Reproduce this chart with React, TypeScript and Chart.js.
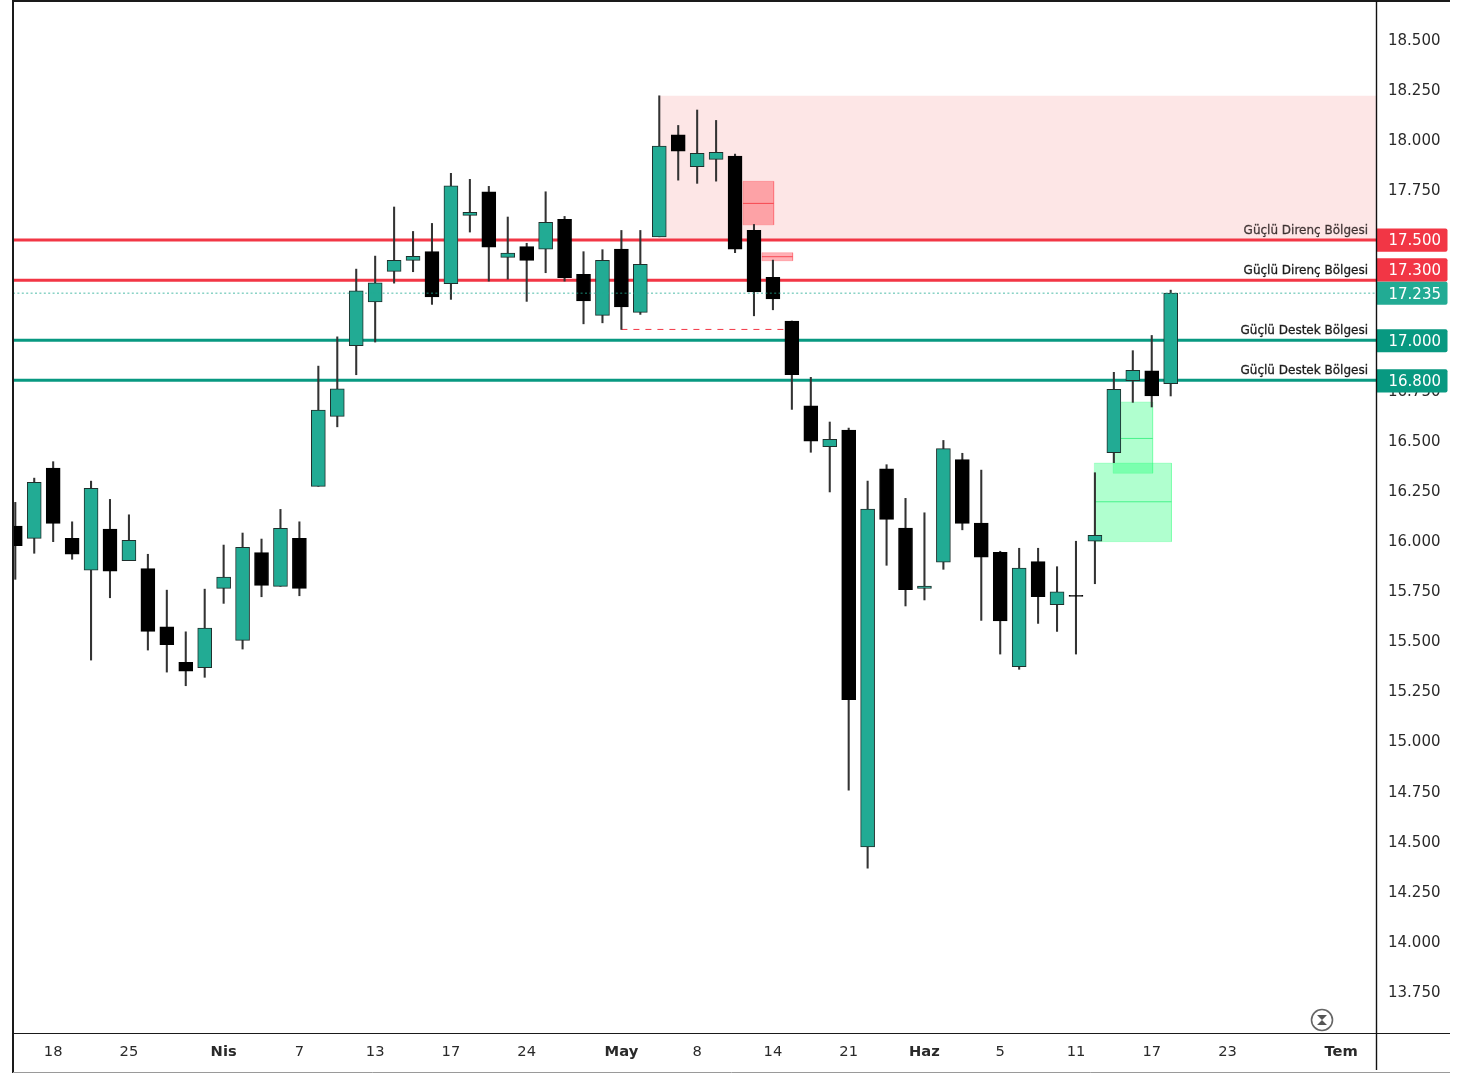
import React, { useEffect, useRef } from "react";
import { Chart, registerables } from "chart.js";

Chart.register(...registerables);

const opens = [16.073, 16.011, 16.362, 16.011, 15.853, 16.058, 15.9, 15.86, 15.57, 15.393, 15.366, 15.762, 15.502, 15.94, 15.772, 16.011,
  16.271, 16.62, 16.973, 17.191, 17.344, 17.399, 17.442, 17.282, 17.623, 17.741, 17.414, 17.467, 17.455, 17.603, 17.329, 17.124, 17.455, 17.139,
  17.516, 18.025, 17.866, 17.903, 17.919, 17.548, 17.314, 17.096, 16.673, 16.469, 16.552, 14.471, 16.359, 16.063, 15.762, 15.893, 16.404, 16.088, 15.942, 15.371, 15.895, 15.68, 15.722, 15.997, 16.439, 16.798, 16.848, 16.783];
const closes = [15.975, 16.291, 16.086, 15.933, 16.261, 15.848, 16.001, 15.547, 15.481, 15.349, 15.564, 15.818, 15.967, 15.777, 16.061, 15.762,
  16.652, 16.758, 17.247, 17.287, 17.399, 17.419, 17.216, 17.771, 17.638, 17.465, 17.435, 17.399, 17.588, 17.312, 17.196, 17.399, 17.166, 17.379,
  17.969, 17.943, 17.933, 17.938, 17.454, 17.241, 17.206, 16.828, 16.497, 16.505, 15.207, 16.158, 16.106, 15.755, 15.773, 16.459, 16.086, 15.918, 15.599, 15.863, 15.72, 15.745, 15.722, 16.026, 16.755, 16.85, 16.722, 17.235];
const highs = [16.191, 16.312, 16.394, 16.094, 16.297, 16.206, 16.129, 15.932, 15.753, 15.545, 15.758, 15.978, 16.038, 16.008, 16.156, 16.094,
  16.871, 17.017, 17.355, 17.42, 17.665, 17.543, 17.583, 17.833, 17.803, 17.768, 17.615, 17.484, 17.741, 17.618, 17.442, 17.452, 17.548, 17.548,
  18.22, 18.072, 18.149, 18.097, 17.929, 17.578, 17.4, 17.096, 16.815, 16.592, 16.562, 16.297, 16.379, 16.211, 16.139, 16.5, 16.436, 16.352, 15.947, 15.962, 15.962, 15.87, 15.997, 16.339, 16.84, 16.948, 17.024, 17.25];
const lows = [15.807, 15.937, 15.995, 15.907, 15.404, 15.715, 15.9, 15.454, 15.344, 15.276, 15.318, 15.687, 15.459, 15.72, 15.772, 15.725,
  16.271, 16.568, 16.828, 16.991, 17.285, 17.342, 17.179, 17.204, 17.54, 17.295, 17.305, 17.194, 17.337, 17.295, 17.082, 17.087, 17.054, 17.129,
  17.516, 17.799, 17.783, 17.794, 17.437, 17.122, 17.152, 16.655, 16.441, 16.243, 14.755, 14.366, 15.877, 15.674, 15.704, 15.857, 16.054, 15.602, 15.434, 15.358, 15.587, 15.547, 15.434, 15.785, 16.389, 16.69, 16.667, 16.722];

const priceTicks = [13.75, 14, 14.25, 14.5, 14.75, 15, 15.25, 15.5, 15.75, 16, 16.25, 16.5, 16.75, 17, 17.25, 17.5, 17.75, 18, 18.25, 18.5];
const timeTickIndex = [2, 6, 11, 15, 19, 23, 27, 32, 36, 40, 44, 48, 52, 56, 60, 64, 70];
const timeTickLabels = ["18", "25", "Nis", "7", "13", "17", "24", "May", "8", "14", "21", "Haz", "5", "11", "17", "23", "Tem"];
const boldTimeLabels = ["Nis", "May", "Haz", "Tem"];

const xMin = -0.121;
const xMax = 71.84;
const yMin = 13.543;
const yMax = 18.693;

const levelValues = [17.5, 17.3, 17.0, 16.8];
const levelLabels = ["Güçlü Direnç Bölgesi", "Güçlü Direnç Bölgesi", "Güçlü Destek Bölgesi", "Güçlü Destek Bölgesi"];
const levelColors = ["#f23645", "#f23645", "#089981", "#089981"];
const levelTagShift = [0, -10.2, 0.5, 0.5];
const lastPrice = 17.235;

const zoneStart = [34.04, 38.42, 39.42, 56.97, 57.96];
const zoneEnd = [71.84, 40.04, 41.04, 61.04, 60.05];
const zoneTop = [18.22, 17.793, 17.437, 16.387, 16.692];
const zoneBottom = [17.5, 17.576, 17.397, 15.995, 16.336];
const zoneMiddle = [null, 17.683, 17.417, 16.194, 16.51];
const zoneFill = ["rgba(240,60,60,0.13)", "rgba(255,70,80,0.42)", "rgba(255,70,80,0.42)", "rgba(0,255,100,0.31)", "rgba(0,255,100,0.31)"];
const zoneEdge = ["rgba(242,54,69,0)", "rgba(255,70,80,0.28)", "rgba(255,70,80,0.28)", "rgba(0,255,100,0.18)", "rgba(0,255,100,0.18)"];
const zoneMid = ["", "rgba(245,50,60,0.8)", "rgba(245,50,60,0.8)", "rgba(0,235,95,0.6)", "rgba(0,235,95,0.6)"];

const sweepStart = 32;
const sweepEnd = 40.6;
const sweepPrice = 17.054;

const GREEN = "#22ab94";
const FONT = '"DejaVu Sans"';

const chrome = {
  id: "chrome",
  beforeDraw(chart: any) {
    chart.scales.y.getLabelItems().forEach((item: any) => {
      item.options.translation[1] += 1.5;
    });
  },
  afterDraw(chart: any) {
    const { ctx, scales } = chart;
    const y = scales.y;
    ctx.save();
    // frame
    ctx.strokeStyle = "#1a1a1a";
    ctx.lineWidth = 2;
    ctx.beginPath();
    ctx.moveTo(13, 1073);
    ctx.lineTo(13, 1);
    ctx.lineTo(1450, 1);
    ctx.stroke();
    ctx.lineWidth = 1.2;
    ctx.beginPath();
    ctx.moveTo(13, 1033.5);
    ctx.lineTo(1450, 1033.5);
    ctx.stroke();
    ctx.strokeStyle = "#9a9a9a";
    ctx.lineWidth = 1;
    ctx.beginPath();
    ctx.moveTo(13, 1072.5);
    ctx.lineTo(1450, 1072.5);
    ctx.stroke();

    // level labels
    ctx.font = `12px ${FONT}`;
    ctx.textAlign = "right";
    ctx.textBaseline = "alphabetic";
    ctx.lineWidth = 0.3;
    levelValues.forEach((v, i) => {
      const c = i === 0 ? "rgba(30,20,20,0.8)" : "#1c1c1c";
      ctx.fillStyle = c;
      ctx.strokeStyle = c;
      ctx.fillText(levelLabels[i], 1368, y.getPixelForValue(v) - 6);
      ctx.strokeText(levelLabels[i], 1368, y.getPixelForValue(v) - 6);
    });

    // price tags
    ctx.font = `15px ${FONT}`;
    ctx.textAlign = "left";
    ctx.textBaseline = "middle";
    const draw = (v: number, c: string, shift: number) => {
      const py = y.getPixelForValue(v) + shift;
      ctx.fillStyle = c;
      ctx.beginPath();
      ctx.roundRect(1377, py - 11.6, 70.5, 23.2, [0, 2, 2, 0]);
      ctx.fill();
      ctx.fillStyle = "#ffffff";
      ctx.fillText(v.toFixed(3), 1388.5, py + 1.5);
    };
    draw(lastPrice, GREEN, 0);
    levelValues.forEach((v, i) => draw(v, levelColors[i], levelTagShift[i]));

    // price axis line, above the tags' edge
    ctx.strokeStyle = "#111111";
    ctx.lineWidth = 1.4;
    ctx.beginPath();
    ctx.moveTo(1376.5, 1);
    ctx.lineTo(1376.5, 1070);
    ctx.stroke();

    // hourglass badge
    ctx.strokeStyle = "#666666";
    ctx.fillStyle = "#555555";
    ctx.lineWidth = 1.6;
    ctx.beginPath();
    ctx.arc(1322, 1020, 10.5, 0, Math.PI * 2);
    ctx.stroke();
    ctx.beginPath();
    ctx.moveTo(1317, 1015);
    ctx.lineTo(1327, 1015);
    ctx.lineTo(1322, 1020);
    ctx.lineTo(1327, 1025);
    ctx.lineTo(1317, 1025);
    ctx.lineTo(1322, 1020);
    ctx.closePath();
    ctx.fill();
    ctx.restore();
  },
};

export default function App() {
  const ref = useRef<HTMLCanvasElement>(null);

  useEffect(() => {
    if (!ref.current) return;
    document.body.style.margin = "0";
    const candleIdx = opens.map((_, i) => i);
    const plain = { pointRadius: 0, pointHoverRadius: 0, tension: 0 };

    const datasets: any[] = [];

    zoneStart.forEach((s, i) => {
      const e = zoneEnd[i];
      datasets.push({
        type: "line",
        order: 5,
        data: [
          { x: s, y: zoneBottom[i] },
          { x: s, y: zoneTop[i] },
          { x: e, y: zoneTop[i] },
          { x: e, y: zoneBottom[i] },
          { x: s, y: zoneBottom[i] },
        ],
        fill: "shape",
        backgroundColor: zoneFill[i],
        borderColor: zoneEdge[i],
        borderWidth: 1,
        ...plain,
      });
      const m = zoneMiddle[i];
      if (m !== null) {
        datasets.push({
          type: "line",
          order: 4,
          data: [{ x: s, y: m }, { x: e, y: m }],
          fill: false,
          borderColor: zoneMid[i],
          borderWidth: 1,
          ...plain,
        });
      }
    });

    levelValues.forEach((v, i) => {
      datasets.push({
        type: "line",
        order: 3,
        data: [{ x: xMin, y: v }, { x: xMax, y: v }],
        fill: false,
        borderColor: levelColors[i],
        borderWidth: 3,
        ...plain,
      });
    });

    datasets.push({
      type: "line",
      order: 3,
      data: [{ x: sweepStart, y: sweepPrice }, { x: sweepEnd, y: sweepPrice }],
      fill: false,
      borderColor: "#f23645",
      borderWidth: 1,
      borderDash: [6, 6],
      ...plain,
    });

    datasets.push({
      type: "bar",
      order: 2,
      grouped: false,
      barThickness: 1.4,
      data: candleIdx.map((i) => ({ x: i, y: [lows[i], highs[i]] })),
      backgroundColor: "#333333",
      borderWidth: 0,
    });

    datasets.push({
      type: "bar",
      order: 1,
      grouped: false,
      barThickness: 14,
      minBarLength: 1,
      data: candleIdx.map((i) => ({ x: i, y: [opens[i], closes[i]] })),
      backgroundColor: candleIdx.map((i) => (closes[i] > opens[i] ? GREEN : "#000000")),
      borderColor: candleIdx.map((i) => (closes[i] > opens[i] ? "#1f2f2c" : "#000000")),
      borderWidth: 1,
      borderSkipped: false,
    });

    datasets.push({
      type: "line",
      order: 0,
      data: [{ x: xMin, y: lastPrice }, { x: xMax, y: lastPrice }],
      fill: false,
      borderColor: "rgba(34,171,148,0.8)",
      borderWidth: 1,
      borderDash: [2, 2.4],
      ...plain,
    });

    const chart = new Chart(ref.current, {
      type: "bar",
      data: { datasets },
      plugins: [chrome],
      options: {
        animation: false,
        responsive: false,
        events: [],
        layout: { padding: { left: 13, top: 1, right: 0, bottom: 0 } },
        plugins: { legend: { display: false }, tooltip: { enabled: false }, title: { display: false } },
        scales: {
          x: {
            type: "linear",
            min: xMin,
            max: xMax,
            offset: false,
            grid: { display: false, drawTicks: false },
            border: { display: false },
            afterFit: (s: any) => { s.height = 40; s.paddingLeft = 0; s.paddingRight = 0; },
            afterBuildTicks: (s: any) => { s.ticks = timeTickIndex.map((value) => ({ value })); },
            ticks: {
              autoSkip: false,
              maxRotation: 0,
              padding: 10,
              color: "#2a2a2a",
              font: (c: any) => {
                const l = timeTickLabels[timeTickIndex.indexOf(c.tick?.value)];
                return { family: FONT, size: 14.7, weight: boldTimeLabels.includes(l) ? "bold" : "normal" };
              },
              callback: (v: any) => timeTickLabels[timeTickIndex.indexOf(v)],
            },
          },
          y: {
            type: "linear",
            position: "right",
            min: yMin,
            max: yMax,
            grid: { display: false, drawTicks: false },
            border: { display: false },
            afterFit: (s: any) => { s.width = 89; s.paddingTop = 0; s.paddingBottom = 0; },
            afterBuildTicks: (s: any) => { s.ticks = priceTicks.map((value) => ({ value })); },
            ticks: {
              padding: 12,
              autoSkip: false,
              color: "#2a2a2a",
              font: { family: FONT, size: 15 },
              callback: (v: any) => Number(v).toFixed(3),
            },
          },
        },
      },
    } as any);
    return () => chart.destroy();
  }, []);

  return (
    <canvas
      ref={ref}
      width={1465}
      height={1073}
      style={{ display: "block", width: 1465, height: 1073, filter: "blur(0.35px)" }}
    />
  );
}
